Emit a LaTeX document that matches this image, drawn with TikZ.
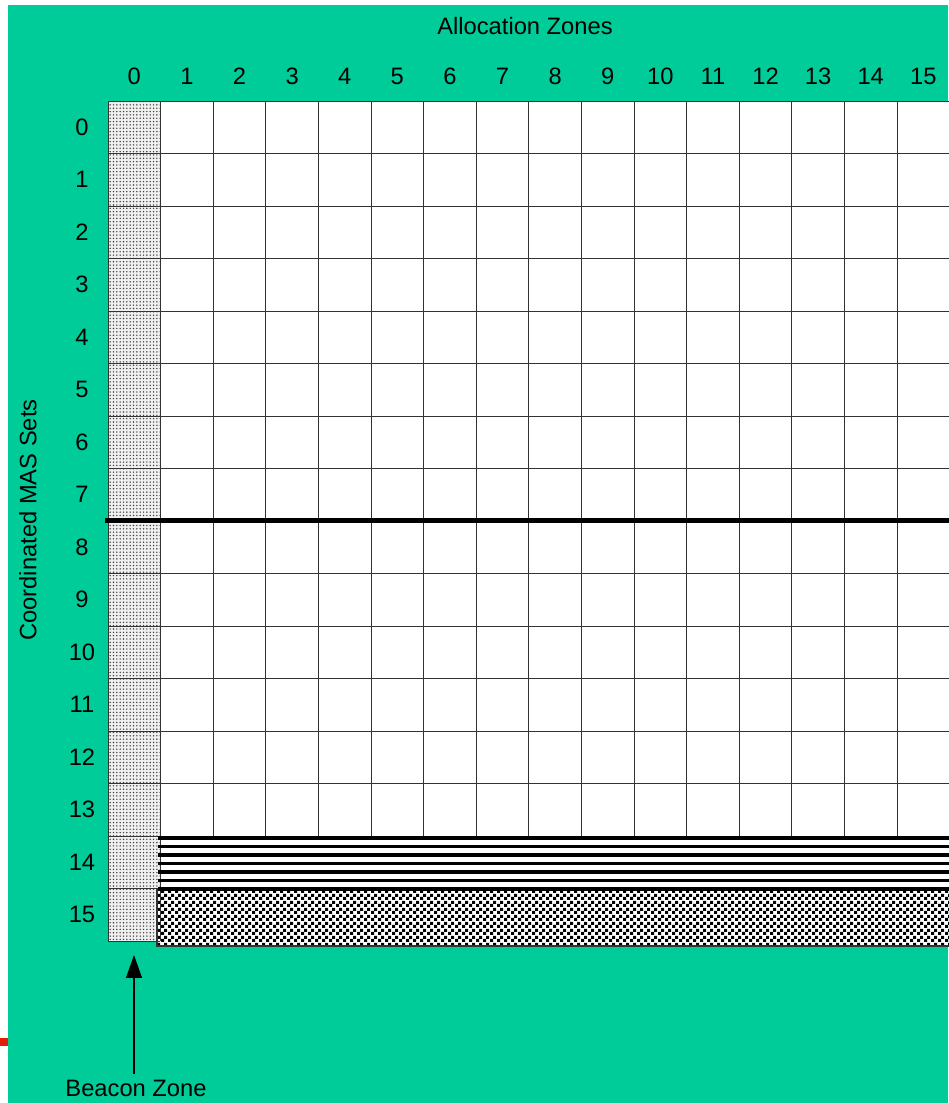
\documentclass[tikz,border=0pt]{standalone}
\usepackage{fontspec}
\setmainfont{Liberation Sans}
\usetikzlibrary{arrows.meta,patterns,patterns.meta}
\definecolor{Sea}{HTML}{00CC99}
\definecolor{Mark}{HTML}{E0200A}
\pgfdeclarepatternformonly{finechecker}{\pgfpointorigin}{\pgfqpoint{4pt}{4pt}}{\pgfqpoint{4pt}{4pt}}{
  \pgfpathrectangle{\pgfpointorigin}{\pgfqpoint{2pt}{2pt}}
  \pgfpathrectangle{\pgfqpoint{2pt}{2pt}}{\pgfqpoint{2pt}{2pt}}
  \pgfusepath{fill}}
\begin{document}
\begin{tikzpicture}[x=0.02cm,y=-0.02cm,
  lbl/.style={font=\fontsize{13.5}{16}\selectfont,inner sep=0pt},
  gridline/.style={draw=black!80,line width=0.55pt},
  beacon/.style={fill=gray!12,postaction={pattern={Dots[distance=1.9pt,radius=0.45pt]},pattern color=black!75}},
  stripe/.style={draw=black,line width=2.1pt},
  checker/.style={fill=white,postaction={pattern=finechecker,pattern color=black}},
  arrow/.style={-{Triangle[length=13pt,width=9pt]},line width=0.8pt}
]
\useasboundingbox (0,0) rectangle (948,1103);
\fill[Sea] (8,5) rectangle (948,1103);
\fill[Mark] (0,1038) rectangle (8,1046);
\fill[white] (108,101) rectangle (952,888);
\path[beacon] (108,101) rectangle (160,941);
\path[checker] (157,888) rectangle (952,946);
\foreach \i in {2,...,16}
  \draw[gridline] (108+52.6*\i,101) -- (108+52.6*\i,836);
\foreach \i in {0,1}
  \draw[gridline] (108+52.6*\i,101) -- (108+52.6*\i,941);
\foreach \j in {0,...,14}
  \draw[gridline] (108,101+52.5*\j) -- (952,101+52.5*\j);
\foreach \j in {15,16}
  \draw[gridline] (108,101+52.5*\j) -- (160,101+52.5*\j);
\foreach \k in {0,...,6}
  \draw[stripe] (158,838+8.5*\k) -- (952,838+8.5*\k);
\draw[black!80,line width=0.8pt] (157,888) -- (157,946) -- (952,946);
\draw[line width=2.8pt] (105,520.5) -- (952,520.5);
\node[lbl] (zones) at (525,26) {Allocation Zones};
\foreach \c in {0,...,15}
  \node[lbl] (col\c) at (134.3+52.6*\c,76) {\c};
\foreach \r in {0,...,15}
  \node[lbl] (row\r) at (82,127.3+52.5*\r) {\r};
\node[lbl,rotate=90] (sets) at (28,520) {Coordinated MAS Sets};
\node[lbl] (beaconlbl) at (136,1088) {Beacon Zone};
\coordinate (beacontip) at (134,955);
\draw[arrow] ([xshift=-2*0.02cm,yshift=0.1cm]beaconlbl.north) -- (beacontip);
\end{tikzpicture}
\end{document}
